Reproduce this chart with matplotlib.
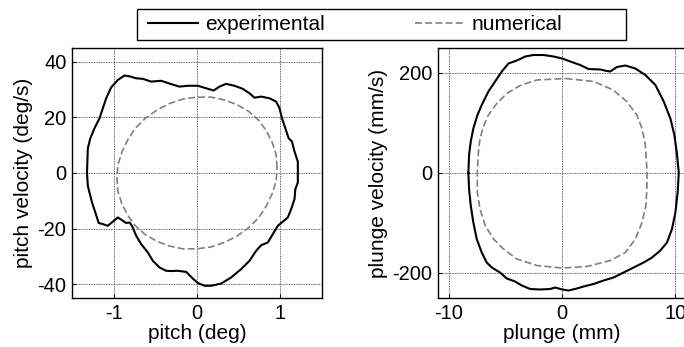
import matplotlib
matplotlib.use("Agg")
import matplotlib.pyplot as plt
from matplotlib.lines import Line2D
from matplotlib.patches import Rectangle

plt.rcParams['font.family'] = ['Liberation Sans', 'DejaVu Sans']
plt.rcParams['axes.unicode_minus'] = False

# ---- pitch: experimental loop (deg, deg/s) ----
pitch_exp_x = [-1.32, -1.31, -1.28, -1.23, -1.17, -1.13, -1.09, -1.03, -0.95, -0.87, -0.81, -0.73,
               -0.65, -0.55, -0.43, -0.31, -0.21, -0.11, 0.01, 0.11, 0.20, 0.27, 0.35, 0.45, 0.55,
               0.63, 0.69, 0.77, 0.87, 0.95, 0.99, 1.02, 1.06, 1.10, 1.14, 1.17, 1.21, 1.21,
               1.21, 1.18, 1.17, 1.13, 1.09, 1.03, 0.97, 0.91, 0.85, 0.77, 0.71, 0.63, 0.53, 0.41,
               0.29, 0.17, 0.09, 0.01, -0.05, -0.13, -0.23, -0.31, -0.37, -0.45, -0.53, -0.59,
               -0.67, -0.73, -0.78, -0.81, -0.85, -0.89, -0.95, -1.01, -1.07, -1.13, -1.18,
               -1.22, -1.26, -1.29, -1.31, -1.32]
pitch_exp_y = [0.0, 8.9, 12.5, 16.1, 19.7, 23.3, 26.9, 30.8, 33.5, 35.1, 34.8, 34.1,
               33.9, 32.9, 33.2, 32.0, 31.1, 31.4, 31.4, 30.5, 29.7, 31.1, 32.1, 31.4, 30.3,
               28.7, 27.1, 27.5, 26.9, 25.7, 23.3, 19.7, 16.1, 12.5, 11.3, 7.7, 4.1, 0.0,
               -3.4, -5.8, -9.4, -13.0, -16.0, -17.5, -19.0, -22.0, -25.0, -26.0, -28.0, -31.6, -34.6, -37.6,
               -39.8, -40.6, -40.6, -39.6, -38.0, -35.6, -35.2, -35.3, -35.2, -34.0, -31.6, -28.6,
               -25.6, -22.6, -19.0, -17.8, -18.0, -17.2, -16.0, -17.5, -19.0, -18.4, -18.0,
               -14.2, -10.6, -7.0, -4.6, 0.0]

# ---- pitch: numerical loop ----
pitch_num_x = [0.96, 0.95, 0.90, 0.83, 0.74, 0.62, 0.48, 0.33, 0.17, 0.00, -0.17, -0.33,
               -0.48, -0.62, -0.74, -0.83, -0.90, -0.95, -0.96, -0.95, -0.90, -0.83, -0.74, -0.62,
               -0.48, -0.33, -0.17, 0.00, 0.17, 0.33, 0.48, 0.62, 0.74, 0.83, 0.90, 0.95, 0.96]
pitch_num_y = [1.9, 6.6, 11.2, 15.3, 19.0, 22.2, 24.6, 26.3, 27.3, 27.3, 26.6, 25.0,
               22.7, 19.7, 16.1, 12.0, 7.6, 2.9, -1.9, -6.6, -11.2, -15.3, -19.0, -22.2,
               -24.6, -26.3, -27.3, -27.3, -26.6, -25.0, -22.7, -19.7, -16.1, -12.0, -7.6, -2.9, 1.9]

# ---- plunge: experimental loop (mm, mm/s) ----
plunge_exp_x = [-8.29, -8.23, -8.08, -7.85, -7.49, -7.11, -6.52, -5.93, -5.34, -4.75, -4.01, -3.27,
                -2.54, -1.65, -0.77, 0.00, 0.71, 1.59, 2.33, 3.36, 3.95, 4.25, 4.84, 5.58, 6.46,
                7.35, 8.23, 8.97, 9.56, 9.91, 10.15, 10.30,
                10.20, 10.00, 9.70, 9.26, 8.67, 7.94, 7.20, 6.31, 5.43, 4.54, 3.66, 2.77, 1.89,
                1.30, 0.56, 0.00, -0.62, -1.06, -1.95, -2.83, -3.57, -4.16, -4.90, -5.49, -6.22,
                -6.67, -7.11, -7.55, -7.85, -8.08, -8.23, -8.29]
plunge_exp_y = [0, 36, 63, 89, 116, 136, 163, 183, 203, 219, 225, 233,
                236, 236, 233, 229, 223, 216, 208, 207, 204, 203, 212, 215, 209,
                196, 176, 143, 109, 76, 36, 0,
                -39, -79, -112, -139, -155, -169, -179, -189, -199, -209, -215, -222, -227,
                -231, -235, -233, -229, -232, -233, -232, -225, -217, -211, -199, -189,
                -179, -159, -132, -99, -65, -32, 0]

# ---- plunge: numerical loop ----
plunge_num_x = [0.3, 2.8, 4.5, 5.7, 6.6, 7.05, 7.35, 7.5, 7.49, 7.4, 7.05, 6.47, 5.58, 4.25,
                2.18, 0.0, -2.24, -4.0, -5.19, -6.07, -6.8, -7.26, -7.5, -7.5, -7.4, -7.26,
                -6.96, -6.52, -5.78, -4.9, -3.72, -2.24, 0.3]
plunge_num_y = [189, 183, 166, 143, 116, 89, 56, 3, -25, -65, -99, -132, -159, -175,
                -187, -190, -185, -172, -152, -132, -105, -72, -39, 3, 43, 69,
                93, 116, 139, 159, 175, 186, 189]

pitch_xticks = [-1, 0, 1]
pitch_yticks = [-40, -20, 0, 20, 40]
plunge_xticks = [-10, 0, 10]
plunge_yticks = [-200, 0, 200]
legend_labels = ["experimental", "numerical"]

W, H = 684, 347
fig = plt.figure(figsize=(W / 100, H / 100), dpi=100)
fs = 14.5
lfs = 15

exp_style = dict(color='black', lw=1.5)
num_style = dict(color='#808080', lw=1.2, linestyle=(0, (4.2, 1.9)))


def style_ax(ax):
    ax.grid(True, color='#333333', linestyle=(0, (1, 1)), lw=0.6)
    ax.set_axisbelow(True)
    ax.tick_params(direction='in', length=3, labelsize=fs, pad=4, width=0.8)
    for s in ax.spines.values():
        s.set_linewidth(1.0)


ax1 = fig.add_axes([72 / W, (H - 298) / H, 250 / W, 250 / H])
ax1.plot(pitch_num_x, pitch_num_y, **num_style)
ax1.plot(pitch_exp_x, pitch_exp_y, **exp_style)
ax1.set_xlim(-1.5, 1.5)
ax1.set_ylim(-45, 45)
ax1.set_xticks(pitch_xticks)
ax1.set_yticks(pitch_yticks)
ax1.set_xlabel("pitch (deg)", fontsize=lfs, labelpad=1)
ax1.set_ylabel("pitch velocity (deg/s)", fontsize=lfs, labelpad=3)
style_ax(ax1)

ax2 = fig.add_axes([437.7 / W, (H - 298) / H, 249 / W, 250 / H])
ax2.plot(plunge_num_x, plunge_num_y, **num_style)
ax2.plot(plunge_exp_x, plunge_exp_y, **exp_style)
ax2.set_xlim(-11, 11)
ax2.set_ylim(-250, 250)
ax2.set_xticks(plunge_xticks)
ax2.set_yticks(plunge_yticks)
ax2.set_xlabel("plunge (mm)", fontsize=lfs, labelpad=1)
ax2.set_ylabel("plunge velocity (mm/s)", fontsize=lfs, labelpad=3)
style_ax(ax2)

handles = [Line2D([], [], **exp_style), Line2D([], [], **num_style)]
fig.legend(handles, legend_labels, loc='center left', ncol=2,
           bbox_to_anchor=(148 / W, 1 - 24.5 / H), frameon=False, borderpad=0,
           borderaxespad=0, handlelength=2.4, handletextpad=0.35, columnspacing=4.3,
           fontsize=lfs)
fig.patches.append(Rectangle((137 / W, 1 - 40 / H), 489 / W, 31 / H, transform=fig.transFigure,
                             fill=False, edgecolor='black', lw=1.0))

fig.savefig("out.png", dpi=100)
